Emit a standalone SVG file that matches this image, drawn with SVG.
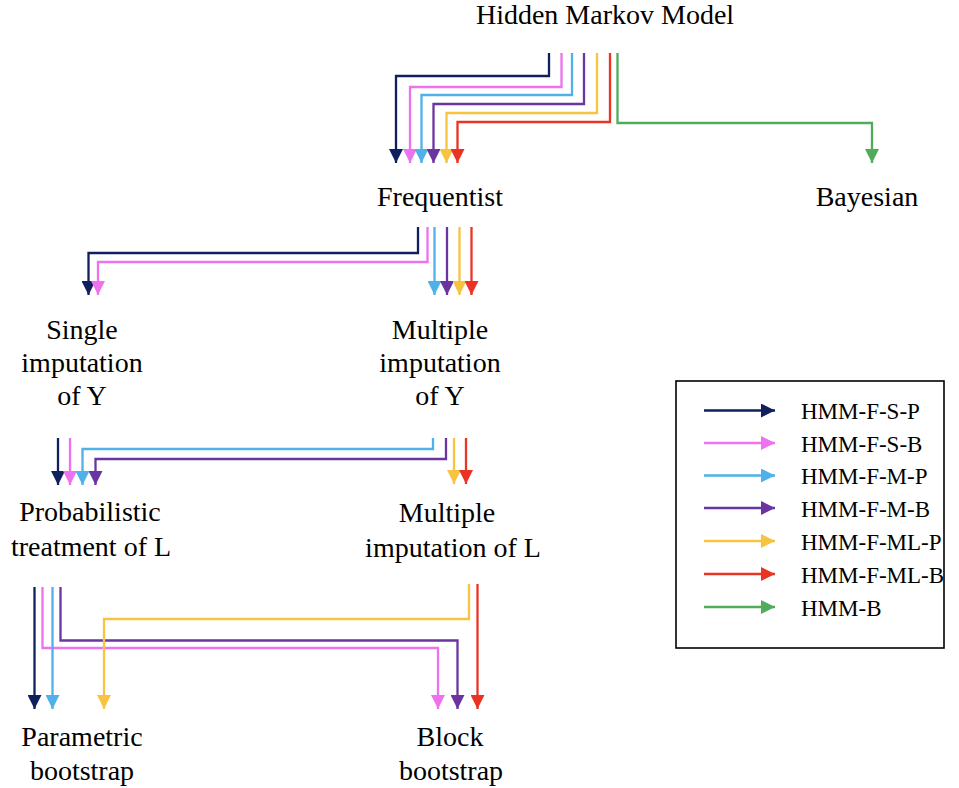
<svg xmlns="http://www.w3.org/2000/svg" width="959" height="788" viewBox="0 0 959 788">
<style>
.lbl{font-family:"Liberation Serif","Times New Roman",serif;font-size:28px;fill:#000;text-anchor:middle}
.leg{font-family:"Liberation Serif","Times New Roman",serif;font-size:23px;fill:#000}
.c{fill:none;stroke-width:2.3}
.nv{stroke:#10205f}.pk{stroke:#ee72ee}.lb{stroke:#4fb0ea}.pu{stroke:#6a35a0}.ye{stroke:#f8c340}.rd{stroke:#ea3323}.gr{stroke:#4fac5b}
</style>
<defs>
<marker id="a-nv" markerUnits="userSpaceOnUse" markerWidth="14" markerHeight="14" viewBox="0 0 14 14" refX="14" refY="7" orient="auto"><path d="M0,0 L14,7 L0,14 Z" fill="#10205f"/></marker>
<marker id="a-pk" markerUnits="userSpaceOnUse" markerWidth="14" markerHeight="14" viewBox="0 0 14 14" refX="14" refY="7" orient="auto"><path d="M0,0 L14,7 L0,14 Z" fill="#ee72ee"/></marker>
<marker id="a-lb" markerUnits="userSpaceOnUse" markerWidth="14" markerHeight="14" viewBox="0 0 14 14" refX="14" refY="7" orient="auto"><path d="M0,0 L14,7 L0,14 Z" fill="#4fb0ea"/></marker>
<marker id="a-pu" markerUnits="userSpaceOnUse" markerWidth="14" markerHeight="14" viewBox="0 0 14 14" refX="14" refY="7" orient="auto"><path d="M0,0 L14,7 L0,14 Z" fill="#6a35a0"/></marker>
<marker id="a-ye" markerUnits="userSpaceOnUse" markerWidth="14" markerHeight="14" viewBox="0 0 14 14" refX="14" refY="7" orient="auto"><path d="M0,0 L14,7 L0,14 Z" fill="#f8c340"/></marker>
<marker id="a-rd" markerUnits="userSpaceOnUse" markerWidth="14" markerHeight="14" viewBox="0 0 14 14" refX="14" refY="7" orient="auto"><path d="M0,0 L14,7 L0,14 Z" fill="#ea3323"/></marker>
<marker id="a-gr" markerUnits="userSpaceOnUse" markerWidth="14" markerHeight="14" viewBox="0 0 14 14" refX="14" refY="7" orient="auto"><path d="M0,0 L14,7 L0,14 Z" fill="#4fac5b"/></marker>
</defs>
<rect width="959" height="788" fill="#fff"/>

<g id="node-hmm"><text class="lbl" x="605" y="24">Hidden Markov Model</text></g>
<g id="node-frequentist"><text class="lbl" x="440" y="206">Frequentist</text></g>
<g id="node-bayesian"><text class="lbl" x="867" y="206">Bayesian</text></g>
<g id="node-single-y"><text class="lbl" x="82" y="339">Single</text><text class="lbl" x="82" y="372">imputation</text><text class="lbl" x="82" y="405">of Y</text></g>
<g id="node-multiple-y"><text class="lbl" x="440" y="339">Multiple</text><text class="lbl" x="440" y="372">imputation</text><text class="lbl" x="440" y="405">of Y</text></g>
<g id="node-prob-l"><text class="lbl" x="90" y="521">Probabilistic</text><text class="lbl" x="91" y="556">treatment of L</text></g>
<g id="node-multiple-l"><text class="lbl" x="447" y="522">Multiple</text><text class="lbl" x="453" y="557">imputation of L</text></g>
<g id="node-parametric"><text class="lbl" x="82" y="746">Parametric</text><text class="lbl" x="82" y="780">bootstrap</text></g>
<g id="node-block"><text class="lbl" x="450" y="746">Block</text><text class="lbl" x="451" y="780">bootstrap</text></g>

<g id="connectors">
<path class="c nv" d="M549,53 V76 H396 V163" marker-end="url(#a-nv)"/>
<path class="c pk" d="M561.5,53 V87 H410 V163" marker-end="url(#a-pk)"/>
<path class="c lb" d="M572,53 V95 H421.5 V163" marker-end="url(#a-lb)"/>
<path class="c pu" d="M584,53 V104 H433.5 V163" marker-end="url(#a-pu)"/>
<path class="c ye" d="M597,53 V113 H446.5 V163" marker-end="url(#a-ye)"/>
<path class="c rd" d="M610,53 V122 H457.5 V163" marker-end="url(#a-rd)"/>
<path class="c gr" d="M617.5,53 V123 H872 V163" marker-end="url(#a-gr)"/>

<path class="c nv" d="M418,227 V253 H88.5 V295" marker-end="url(#a-nv)"/>
<path class="c pk" d="M427.5,227 V262 H98 V295" marker-end="url(#a-pk)"/>
<path class="c lb" d="M434.5,227 V295" marker-end="url(#a-lb)"/>
<path class="c pu" d="M447,227 V295" marker-end="url(#a-pu)"/>
<path class="c ye" d="M459.5,227 V295" marker-end="url(#a-ye)"/>
<path class="c rd" d="M471.5,227 V295" marker-end="url(#a-rd)"/>

<path class="c nv" d="M58,438 V485" marker-end="url(#a-nv)"/>
<path class="c pk" d="M70,438 V485" marker-end="url(#a-pk)"/>
<path class="c lb" d="M433,438 V449 H82.5 V485" marker-end="url(#a-lb)"/>
<path class="c pu" d="M446,438 V459 H95.5 V485" marker-end="url(#a-pu)"/>
<path class="c ye" d="M454,438 V484" marker-end="url(#a-ye)"/>
<path class="c rd" d="M466,438 V484" marker-end="url(#a-rd)"/>

<path class="c nv" d="M34.5,587 V709" marker-end="url(#a-nv)"/>
<path class="c pk" d="M42.5,587 V648 H438 V709" marker-end="url(#a-pk)"/>
<path class="c lb" d="M52.5,587 V709" marker-end="url(#a-lb)"/>
<path class="c pu" d="M60.5,587 V640.5 H457.5 V709" marker-end="url(#a-pu)"/>
<path class="c ye" d="M469,584 V619 H104 V709" marker-end="url(#a-ye)"/>
<path class="c rd" d="M477.5,584 V709" marker-end="url(#a-rd)"/>
</g>

<g id="legend">
<rect x="676" y="381" width="268" height="267" fill="none" stroke="#000" stroke-width="1.6"/>
<path class="c nv" d="M704,410.5 H775" marker-end="url(#a-nv)"/>
<path class="c pk" d="M704,443 H775" marker-end="url(#a-pk)"/>
<path class="c lb" d="M704,475.5 H775" marker-end="url(#a-lb)"/>
<path class="c pu" d="M704,508 H775" marker-end="url(#a-pu)"/>
<path class="c ye" d="M704,541 H775" marker-end="url(#a-ye)"/>
<path class="c rd" d="M704,574 H775" marker-end="url(#a-rd)"/>
<path class="c gr" d="M704,607 H775" marker-end="url(#a-gr)"/>
<text class="leg" x="801" y="419">HMM-F-S-P</text>
<text class="leg" x="801" y="451.5">HMM-F-S-B</text>
<text class="leg" x="801" y="484">HMM-F-M-P</text>
<text class="leg" x="801" y="516.5">HMM-F-M-B</text>
<text class="leg" x="801" y="549.5">HMM-F-ML-P</text>
<text class="leg" x="801" y="582.5">HMM-F-ML-B</text>
<text class="leg" x="801" y="615.5">HMM-B</text>
</g>
</svg>
